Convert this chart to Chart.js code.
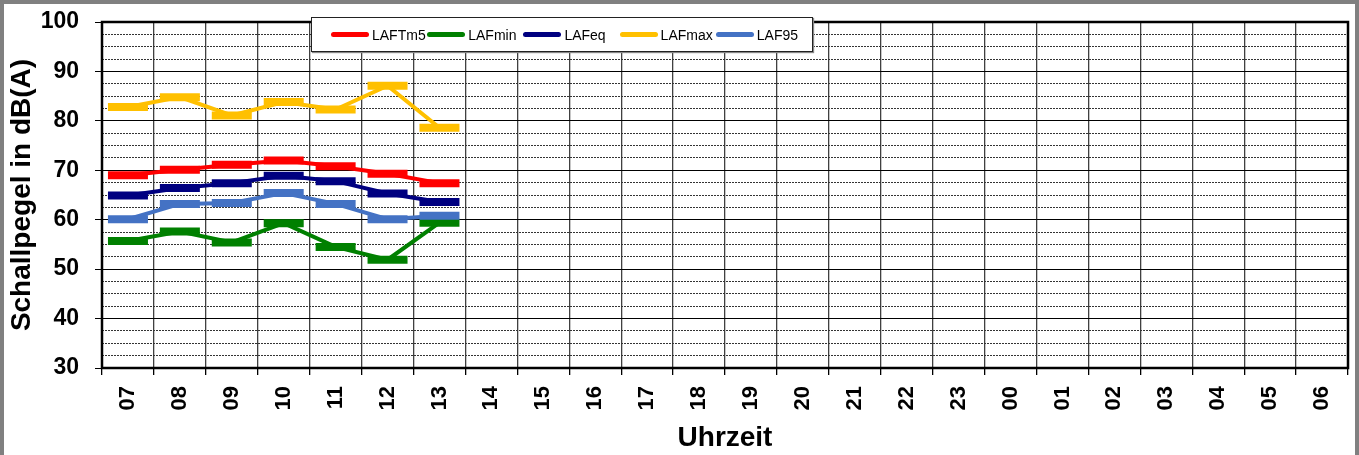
<!DOCTYPE html>
<html>
<head>
<meta charset="utf-8">
<script src="https://cdn.jsdelivr.net/npm/chart.js@4/dist/chart.umd.min.js"></script>
<style>
    html, body { margin: 0; padding: 0; background: #fff; }
    #wrap { position: relative; width: 1359px; height: 455px; overflow: hidden; }
    #legend {
        position: absolute; left: 311px; top: 17px; width: 502px; height: 35px;
        background: #fff; border: 1px solid #222; box-shadow: 1px 1px 1px #888;
        display: flex; align-items: center; padding-left: 19px; box-sizing: border-box;
        font-family: "Liberation Sans", Arial, sans-serif; font-size: 14px; color: #000;
    }
    .item { display: flex; align-items: center; width: 99.5px; white-space: nowrap; }
    .swatch { width: 38px; height: 5px; border-radius: 3px; margin-right: 3px; }
</style>
</head>
<body>
<div id="wrap">
    <canvas id="chart" width="1359" height="455"></canvas>
    <div id="legend"></div>
</div>
<script>
// --- DONNÉES ---
const hours = ['07','08','09','10','11','12','13','14','15','16','17','18',
               '19','20','21','22','23','00','01','02','03','04','05','06'];

const lafTm5 = [69.0, 70.1, 71.1, 72.0, 70.8, 69.3, 67.4];
const lafMin = [55.7, 57.6, 55.4, 59.3, 54.5, 51.9, 59.4];
const lafEq  = [64.9, 66.4, 67.4, 68.9, 67.8, 65.3, 63.6];
const lafMax = [82.8, 84.8, 81.1, 83.8, 82.3, 87.1, 78.6];
const laf95  = [60.1, 63.2, 63.4, 65.4, 63.2, 60.1, 60.8];

const seriesNames  = ['LAFTm5', 'LAFmin', 'LAFeq', 'LAFmax', 'LAF95'];
const seriesValues = [lafTm5, lafMin, lafEq, lafMax, laf95];
const seriesColors = ['#FF0000', '#008000', '#000080', '#FFC000', '#4472C4'];

const FONT = '"Liberation Sans", Arial, sans-serif';

// cadre gris autour de l'image + cadre noir de la zone de tracé
const framePlugin = {
    id: 'frames',
    beforeDraw(chart) {
        const ctx = chart.ctx;
        ctx.save();
        ctx.fillStyle = '#fff';
        ctx.fillRect(0, 0, chart.width, chart.height);
        ctx.strokeStyle = '#808080';
        ctx.lineWidth = 4;
        ctx.strokeRect(2, 2, chart.width - 4, chart.height + 10);
        ctx.restore();
    },
    beforeDatasetsDraw(chart) {
        const { ctx, chartArea: a } = chart;
        ctx.save();
        ctx.strokeStyle = '#000';
        ctx.lineWidth = 2.5;
        ctx.strokeRect(a.left, a.top, a.right - a.left, a.bottom - a.top);
        ctx.restore();
    }
};

const datasets = seriesNames.map((name, i) => ({
    label: name,
    data: seriesValues[i],
    borderColor: seriesColors[i],
    backgroundColor: seriesColors[i],
    borderWidth: 4,
    pointStyle: 'line',
    pointRadius: 20,
    pointHoverRadius: 20,
    pointBorderWidth: 8,
    pointHoverBorderWidth: 8,
    tension: 0,
    fill: false,
    order: seriesNames.length - i
}));

const chart = new Chart(document.getElementById('chart'), {
    type: 'line',
    data: { labels: hours, datasets: datasets },
    options: {
        responsive: false,
        animation: false,
        layout: { autoPadding: false, padding: { left: 0, top: 22, right: 11, bottom: 0 } },
        plugins: {
            legend: { display: false },
            tooltip: { enabled: false }
        },
        scales: {
            x: {
                offset: true,
                grid: {
                    offset: true,
                    color: '#404040',
                    lineWidth: 1.3,
                    tickColor: '#000',
                    tickLength: 7
                },
                border: { display: false },
                ticks: {
                    autoSkip: false,
                    minRotation: 90,
                    maxRotation: 90,
                    padding: 11,
                    color: '#000',
                    font: { family: FONT, size: 22, weight: 'bold' }
                },
                title: {
                    display: true,
                    text: 'Uhrzeit',
                    color: '#000',
                    padding: { top: 0, bottom: 0 },
                    font: { family: FONT, size: 28, weight: 'bold' }
                },
                afterFit(scale) {
                    scale.height = 87;
                    scale.paddingLeft = 0;
                    scale.paddingRight = 0;
                }
            },
            y: {
                min: 30,
                max: 100,
                ticks: {
                    stepSize: 10,
                    padding: 16,
                    color: '#000',
                    font: { family: FONT, size: 23, weight: 'bold' }
                },
                grid: {
                    color: '#000',
                    lineWidth: 1,
                    tickColor: '#000',
                    tickLength: 7
                },
                border: { display: false },
                title: {
                    display: true,
                    text: 'Schallpegel in dB(A)',
                    color: '#000',
                    padding: { top: 5, bottom: 0 },
                    font: { family: FONT, size: 28, weight: 'bold' }
                },
                afterFit(scale) {
                    scale.width = 102;
                    scale.paddingTop = 0;
                    scale.paddingBottom = 0;
                }
            },
            // lignes secondaires pointillées tous les 2,5 dB
            yMinor: {
                position: 'right',
                min: 30,
                max: 100,
                ticks: { display: false, stepSize: 2.5 },
                grid: {
                    drawTicks: false,
                    lineWidth: 1,
                    color: ctx => (ctx.tick && ctx.tick.value % 10 === 0) ? 'rgba(0,0,0,0)' : '#333'
                },
                border: { display: false, dash: [2, 1] },
                afterFit(scale) {
                    scale.width = 0;
                    scale.paddingTop = 0;
                    scale.paddingBottom = 0;
                }
            }
        }
    },
    plugins: [framePlugin]
});

// Légende HTML (encadrée, posée sur la zone de tracé)
const legendEl = document.getElementById('legend');
chart.data.datasets.forEach(ds => {
    const item = document.createElement('div');
    item.className = 'item';
    const sw = document.createElement('span');
    sw.className = 'swatch';
    sw.style.background = ds.borderColor;
    const txt = document.createElement('span');
    txt.textContent = ds.label;
    item.appendChild(sw);
    item.appendChild(txt);
    legendEl.appendChild(item);
});
</script>
</body>
</html>
